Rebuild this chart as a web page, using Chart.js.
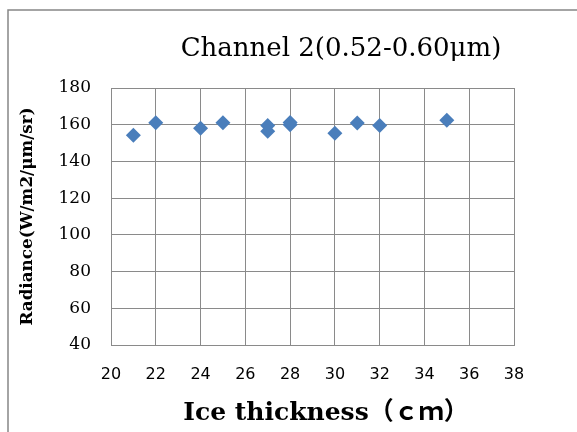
<!DOCTYPE html>
<html>
<head>
<meta charset="utf-8">
<title>Channel 2 radiance vs ice thickness</title>
<script src="https://cdn.jsdelivr.net/npm/chart.js@4/dist/chart.umd.min.js"></script>
<style>
  html, body { margin: 0; padding: 0; background: #fff; }
  #wrap { position: relative; width: 577px; height: 432px; overflow: hidden; }
</style>
</head>
<body>
<div id="wrap"><canvas id="chart" width="577" height="432"></canvas></div>
<script>
// measurements: ice thickness (cm) and channel 2 radiance
const thickness = [21, 22, 24, 25, 27, 27, 28, 28, 30, 31, 32, 35];
const radiance = [154.2, 161.1, 158.1, 161.1, 159.6, 156.5, 160.0, 161.2, 155.3, 161.0, 159.6, 162.4];

const titleText = 'Channel 2(0.52-0.60μm)';
const xTitle = 'Ice thickness（ｃｍ）';
const yTitle = 'Radiance(W/m2/μm/sr)';

const xMin = 20, xMax = 38, xStep = 2;
const yMin = 40, yMax = 180, yStep = 20;

const gridColor = '#8a8a8a';

// outer frame, chart heading and the x axis caption
const framePlugin = {
    id: 'frame',
    beforeDraw(chart) {
        const ctx = chart.ctx;
        ctx.save();
        ctx.fillStyle = '#fff';
        ctx.fillRect(0, 0, chart.width, chart.height);
        ctx.strokeStyle = '#878787';
        ctx.lineWidth = 1.5;
        ctx.strokeRect(8, 10, 700, 600);
        ctx.restore();
    },
    afterDraw(chart) {
        const ctx = chart.ctx;
        ctx.save();
        ctx.fillStyle = '#000';
        ctx.textAlign = 'center';
        ctx.textBaseline = 'alphabetic';
        ctx.font = '26px "DejaVu Serif"';
        ctx.fillText(titleText, 341, 56);
        ctx.font = 'bold 25px "DejaVu Serif", "Noto Sans CJK JP"';
        ctx.fillText(xTitle, 326, 420);
        ctx.restore();
    }
};

const points = thickness.map((x, i) => ({ x: x, y: radiance[i] }));

new Chart(document.getElementById('chart'), {
    type: 'scatter',
    data: {
        datasets: [{
            label: 'Channel 2',
            data: points,
            pointStyle: 'rectRot',
            pointRadius: 7.5,
            pointHoverRadius: 7.5,
            backgroundColor: '#4A7EBB',
            borderColor: '#4A7EBB',
            borderWidth: 0
        }]
    },
    options: {
        responsive: false,
        animation: false,
        layout: { padding: { top: 88, right: 63, left: 0, bottom: 0 } },
        plugins: {
            legend: { display: false },
            tooltip: { enabled: false }
        },
        scales: {
            x: {
                type: 'linear',
                min: xMin,
                max: xMax,
                afterFit: s => { s.height = 87; },
                ticks: {
                    stepSize: xStep,
                    color: '#000',
                    padding: 20,
                    maxRotation: 0,
                    font: { family: '"DejaVu Sans"', size: 16 }
                },
                grid: { color: gridColor, drawTicks: false },
                border: { color: gridColor }
            },
            y: {
                type: 'linear',
                min: yMin,
                max: yMax,
                afterFit: s => { s.width = 111; },
                ticks: {
                    stepSize: yStep,
                    color: '#000',
                    padding: 20,
                    font: { family: '"DejaVu Serif"', size: 17 }
                },
                grid: { color: gridColor, drawTicks: false },
                border: { color: gridColor },
                title: {
                    display: true,
                    text: yTitle,
                    color: '#000',
                    padding: { top: 18, bottom: 0 },
                    font: { family: '"DejaVu Serif"', size: 16.8, weight: 'bold' }
                }
            }
        }
    },
    plugins: [framePlugin]
});
</script>
</body>
</html>
